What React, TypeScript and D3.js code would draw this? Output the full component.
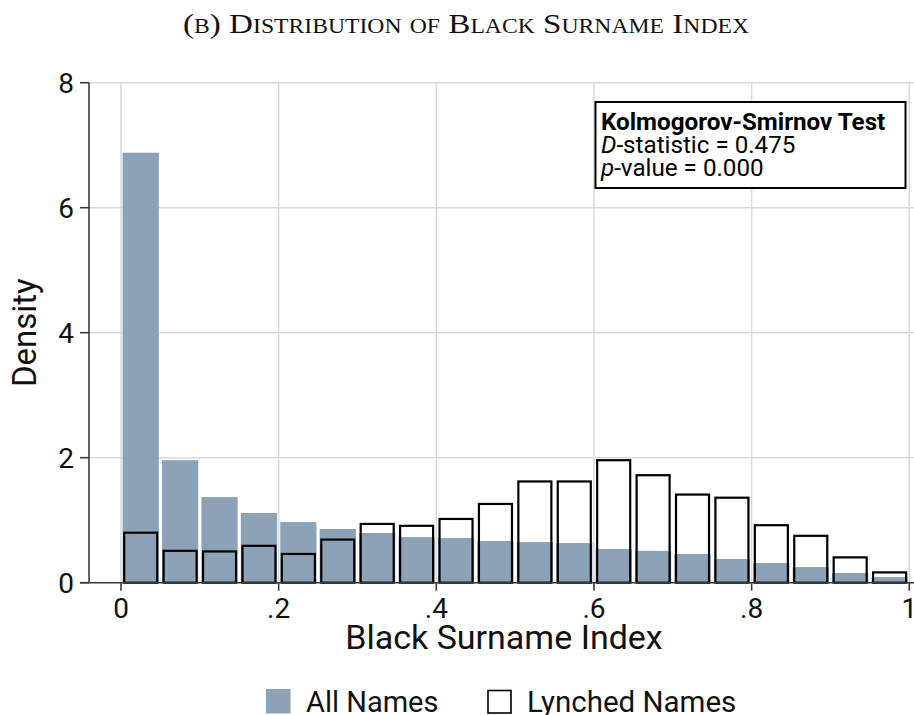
import React from "react";
import * as d3 from "d3";

const binStarts = [0, 0.05, 0.1, 0.15, 0.2, 0.25, 0.3, 0.35, 0.4, 0.45, 0.5, 0.55, 0.6, 0.65, 0.7, 0.75, 0.8, 0.85, 0.9, 0.95];
const binWidth = 0.05;
const allNames = [6.88, 1.96, 1.37, 1.115, 0.97, 0.86, 0.795, 0.73, 0.715, 0.667, 0.65, 0.635, 0.54, 0.51, 0.46, 0.38, 0.315, 0.25, 0.155, 0.09];
const lynchedNames = [0.8, 0.51, 0.5, 0.59, 0.46, 0.69, 0.94, 0.91, 1.02, 1.26, 1.62, 1.62, 1.96, 1.72, 1.41, 1.36, 0.92, 0.75, 0.405, 0.165];
const xTicks = [0, 0.2, 0.4, 0.6, 0.8, 1];
const xTickLabels = ["0", ".2", ".4", ".6", ".8", "1"];
const yTicks = [0, 2, 4, 6, 8];
const titleText = "(b) Distribution of Black Surname Index";
const xTitle = "Black Surname Index";
const yTitle = "Density";
const legendLabels = ["All Names", "Lynched Names"];
const ksLines = ["Kolmogorov-Smirnov Test", "-statistic = 0.475", "-value = 0.000"];

const W = 914;
const H = 715;
const GRAY = "#8ca3b7";
const GRID = "#dadada";
const AXIS = "#3a3a3a";
const SANS = "Roboto, 'Noto Sans', sans-serif";

export default function App() {
  const x = d3.scaleLinear().domain([0, 1]).range([121, 909.3]);
  const y = d3.scaleLinear().domain([0, 8]).range([582.7, 82.7]);
  const plotLeft = 89;
  const plotRight = W;
  const y0 = y(0);

  return (
    <svg
      width={W}
      height={H}
      viewBox={`0 0 ${W} ${H}`}
      style={{ position: "absolute", left: 0, top: 0, background: "#fff" }}
    >
      <rect x={0} y={0} width={W} height={H} fill="#fff" />
      {/* title */}
      <text
        x={466}
        y={33}
        textAnchor="middle"
        fontFamily="'Liberation Serif', 'DejaVu Serif', serif"
        fontSize={28}
        textLength={566}
        lengthAdjust="spacingAndGlyphs"
        style={{ fontVariant: "small-caps" }}
        fill="#111"
      >
        {titleText}
      </text>

      {/* grid */}
      {yTicks.filter((t) => t !== 0).map((t) => (
        <line key={"gy" + t} x1={plotLeft} x2={plotRight} y1={y(t)} y2={y(t)} stroke={GRID} strokeWidth={1.5} />
      ))}
      {xTicks.map((t) => (
        <line key={"gx" + t} x1={x(t)} x2={x(t)} y1={y(8)} y2={y0} stroke={GRID} strokeWidth={1.5} />
      ))}

      {/* all names bars */}
      {allNames.map((v, i) => {
        const x0 = x(binStarts[i]);
        const x1 = x(binStarts[i] + binWidth);
        return (
          <rect key={"a" + i} x={x0 + 1.6} width={x1 - x0 - 3.2} y={y(v)} height={y0 - y(v)} fill={GRAY} />
        );
      })}

      {/* lynched names bars */}
      {lynchedNames.map((v, i) => {
        const x0 = x(binStarts[i]);
        const x1 = x(binStarts[i] + binWidth);
        return (
          <rect
            key={"l" + i}
            x={x0 + 3.2}
            width={x1 - x0 - 6.4}
            y={y(v)}
            height={y0 - y(v)}
            fill="none"
            stroke="#000"
            strokeWidth={2.2}
          />
        );
      })}

      {/* axes */}
      <line x1={plotLeft} x2={plotLeft} y1={y(8)} y2={y0} stroke={AXIS} strokeWidth={1.6} />
      <line x1={80} x2={plotRight} y1={y0} y2={y0} stroke={AXIS} strokeWidth={1.6} />
      {yTicks.map((t) => (
        <g key={"yt" + t}>
          <line x1={80} x2={plotLeft} y1={y(t)} y2={y(t)} stroke={AXIS} strokeWidth={1.6} />
          <text x={74} y={y(t) + 10} textAnchor="end" fontFamily={SANS} fontSize={28} fill="#111">
            {String(t)}
          </text>
        </g>
      ))}
      {xTicks.map((t, i) => (
        <g key={"xt" + t}>
          <line x1={x(t)} x2={x(t)} y1={y0} y2={y0 + 8} stroke={AXIS} strokeWidth={1.6} />
          <text x={x(t)} y={617.5} textAnchor="middle" fontFamily={SANS} fontSize={28} fill="#111">
            {xTickLabels[i]}
          </text>
        </g>
      ))}

      {/* axis titles */}
      <text x={504} y={648.5} textAnchor="middle" fontFamily={SANS} fontSize={34} fill="#111">
        {xTitle}
      </text>
      <text
        transform={`translate(36, ${(y(8) + y0) / 2}) rotate(-90)`}
        textAnchor="middle"
        fontFamily={SANS}
        fontSize={33}
        fill="#111"
      >
        {yTitle}
      </text>

      {/* KS box */}
      <rect x={595.5} y={102} width={310} height={86} fill="#fff" stroke="#000" strokeWidth={2} />
      <text x={601} y={130} fontFamily={SANS} fontSize={24.2} fontWeight="bold" fill="#000">
        {ksLines[0]}
      </text>
      <text x={601} y={153} fontFamily={SANS} fontSize={24.2} fill="#000">
        <tspan fontStyle="italic">D</tspan>
        {ksLines[1]}
      </text>
      <text x={601} y={176} fontFamily={SANS} fontSize={24.2} fill="#000">
        <tspan fontStyle="italic">p</tspan>
        {ksLines[2]}
      </text>

      {/* legend */}
      <rect x={266} y={689} width={24.5} height={24.5} fill={GRAY} />
      <text x={306} y={712} fontFamily={SANS} fontSize={29} fill="#111">
        {legendLabels[0]}
      </text>
      <rect x={488} y={690.5} width={23} height={22.5} fill="#fff" stroke="#000" strokeWidth={1.6} />
      <text x={527} y={712} fontFamily={SANS} fontSize={29.5} fill="#111">
        {legendLabels[1]}
      </text>
    </svg>
  );
}
